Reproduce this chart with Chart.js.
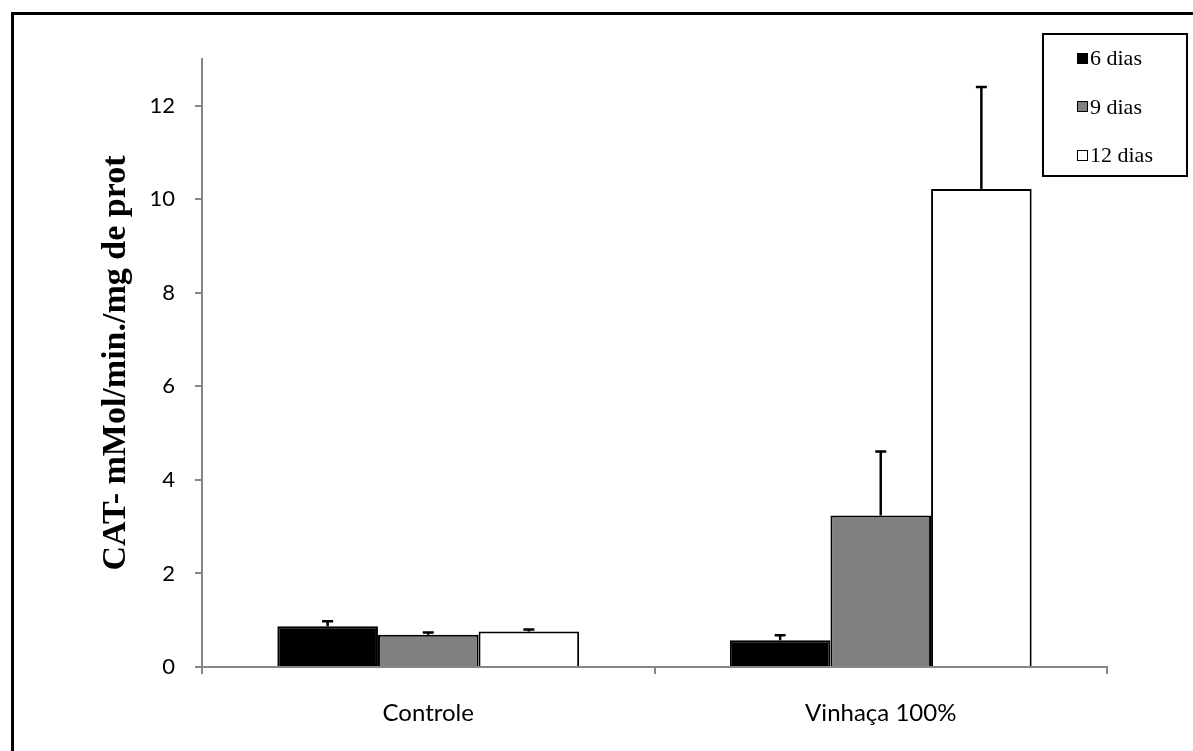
<!DOCTYPE html>
<html>
<head>
<meta charset="utf-8">
<script src="https://cdn.jsdelivr.net/npm/chart.js@4.4.0/dist/chart.umd.min.js"></script>
<style>
html, body { margin: 0; padding: 0; background: #fff; overflow: hidden; }
#wrap { position: relative; width: 1193px; height: 751px; overflow: hidden; }
#frame { position: absolute; left: 11px; top: 12px; width: 2000px; height: 2000px;
         border-left: 3px solid #000; border-top: 3px solid #000; }
#grafico { position: absolute; left: 0; top: 0; }
#legenda { position: absolute; left: 1042px; top: 33px; width: 142px; height: 140px;
           border: 2px solid #000; background: #fff;
           font-family: "Liberation Serif", serif; font-size: 22px; color: #000; }
.item { position: absolute; left: 33px; height: 48px; display: flex; align-items: center; }
.quad { width: 11px; height: 11px; box-sizing: border-box; border: 1.5px solid #000; margin-right: 2px; }
</style>
</head>
<body>
<div id="wrap">
  <div id="frame"></div>
  <canvas id="grafico" width="1193" height="751"></canvas>
  <div id="legenda"></div>
</div>
<script>
// dados
const categorias = ['Controle', 'Vinhaça 100%'];
const series = ['6 dias', '9 dias', '12 dias'];
const cores = ['#000000', '#808080', '#ffffff'];
const dias6 = [0.87, 0.57];
const dias9 = [0.69, 3.24];
const dias12 = [0.76, 10.22];
const erro6 = [0.11, 0.11];
const erro9 = [0.05, 1.37];
const erro12 = [0.04, 2.18];
const yTicks = [0, 2, 4, 6, 8, 10, 12];
const yMax = 13;

const valores = [dias6, dias9, dias12];
const erros = [erro6, erro9, erro12];

// barras de erro (só para cima)
const barrasErro = {
    id: 'barrasErro',
    afterDatasetsDraw(chart) {
        const ctx = chart.ctx;
        const y = chart.scales.y;
        ctx.save();
        ctx.strokeStyle = '#000';
        ctx.lineWidth = 2.5;
        chart.data.datasets.forEach((ds, i) => {
            chart.getDatasetMeta(i).data.forEach((bar, j) => {
                const topo = y.getPixelForValue(ds.data[j] + ds.erros[j]);
                ctx.beginPath();
                ctx.moveTo(bar.x, bar.y);
                ctx.lineTo(bar.x, topo);
                ctx.moveTo(bar.x - 5.5, topo);
                ctx.lineTo(bar.x + 5.5, topo);
                ctx.stroke();
            });
        });
        ctx.restore();
    }
};

const chart = new Chart(document.getElementById('grafico').getContext('2d'), {
    type: 'bar',
    data: {
        labels: categorias,
        datasets: series.map((nome, i) => ({
            label: nome,
            data: valores[i],
            erros: erros[i],
            backgroundColor: cores[i],
            borderColor: '#000',
            borderWidth: 2,
            categoryPercentage: 0.667,
            barPercentage: 1.0
        }))
    },
    options: {
        responsive: false,
        animation: false,
        layout: { padding: { left: 90, top: 59, right: 86, bottom: 0 } },
        plugins: {
            legend: { display: false },
            tooltip: { enabled: false }
        },
        scales: {
            x: {
                grid: { offset: true, drawOnChartArea: false, tickLength: 7, color: '#868686', lineWidth: 2 },
                border: { color: '#868686', width: 2 },
                ticks: { color: '#000', font: { family: 'Lato', size: 24 }, padding: 25 },
                afterFit(s) { s.height = 84; }
            },
            y: {
                min: 0,
                max: yMax,
                afterBuildTicks(s) { s.ticks = yTicks.map(v => ({ value: v })); },
                grid: { drawOnChartArea: false, tickLength: 7, color: '#868686', lineWidth: 2 },
                border: { color: '#868686', width: 2 },
                ticks: { color: '#000', font: { family: 'Lato', size: 22 }, padding: 20 },
                title: {
                    display: true,
                    text: 'CAT- mMol/min./mg de prot',
                    color: '#000',
                    font: { family: 'Liberation Serif', size: 34, weight: 'bold' },
                    padding: { top: 6, bottom: 0 }
                },
                afterFit(s) { s.width = 112; }
            }
        }
    },
    plugins: [barrasErro]
});

// legenda em HTML, montada a partir dos datasets
const legenda = document.getElementById('legenda');
chart.data.datasets.forEach((ds, i) => {
    const item = document.createElement('div');
    item.className = 'item';
    item.style.top = (-1 + i * 48.5) + 'px';
    const q = document.createElement('span');
    q.className = 'quad';
    q.style.background = ds.backgroundColor;
    item.appendChild(q);
    item.appendChild(document.createTextNode(ds.label));
    legenda.appendChild(item);
});
</script>
</body>
</html>
